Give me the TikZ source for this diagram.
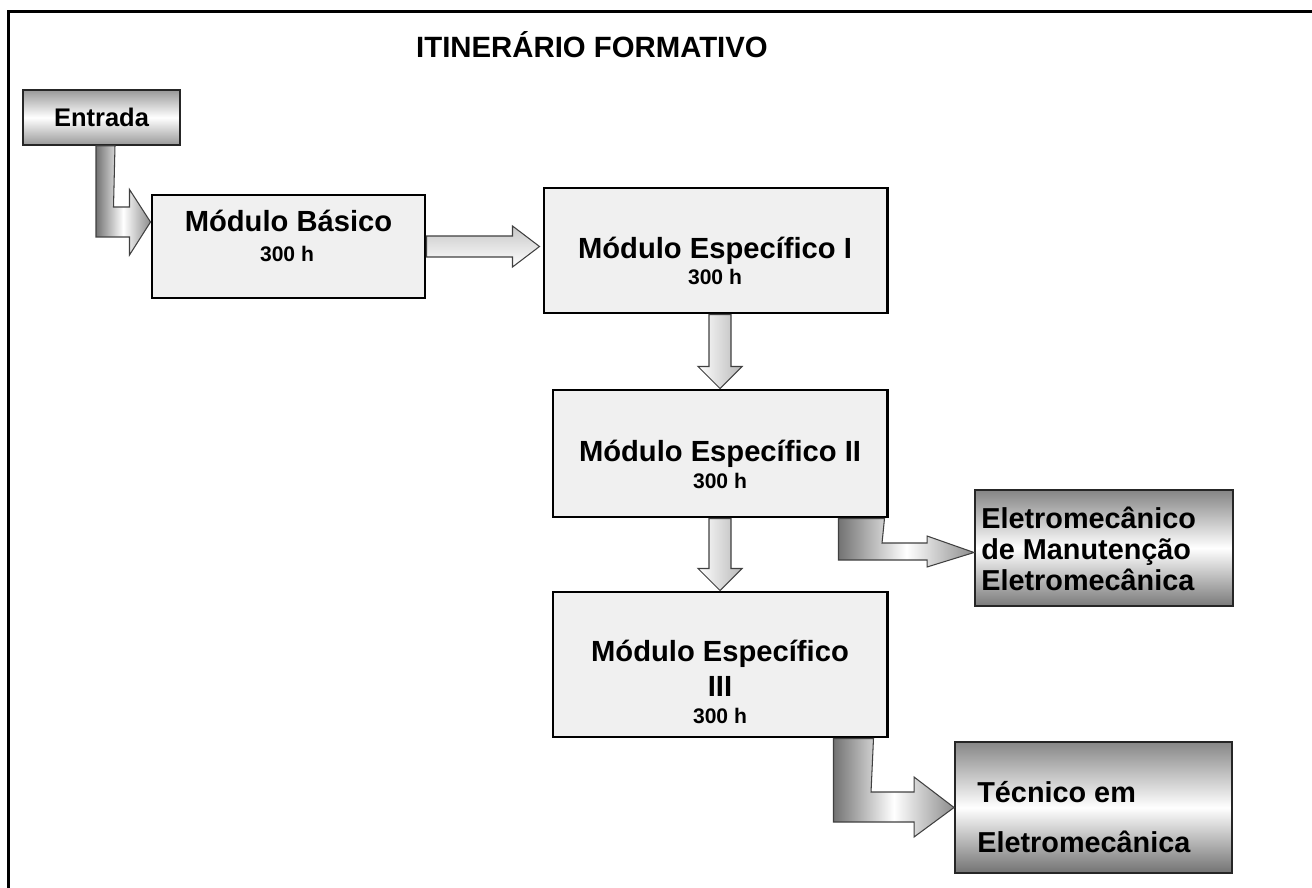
\documentclass[tikz,border=0pt]{standalone}
\usepackage{fontspec}
\setmainfont{Liberation Sans}
\usetikzlibrary{positioning,calc}

\newcommand{\px}{0.02cm}

\tikzset{
  modbox/.style={draw=black, line width=1.7pt, fill=black!6, inner sep=0pt},
  outbox/.style={draw=black!85, line width=1.1pt, top color=black!48, bottom color=black!52, middle color=white, inner sep=0pt},
  titletext/.style={font=\fontsize{16.7}{20}\selectfont\bfseries, anchor=base, inner sep=0pt},
  modtext/.style={font=\fontsize{16.6}{19}\selectfont\bfseries, anchor=base, inner sep=0pt},
  hourtext/.style={font=\fontsize{12}{14}\selectfont\bfseries, anchor=base, inner sep=0pt},
  outtext/.style={font=\fontsize{16.4}{19}\selectfont\bfseries, anchor=base west, inner sep=0pt},
  harrow/.style={draw=black!75, line width=0.6pt, top color=black!22, bottom color=white},
  varrow/.style={draw=black!75, line width=0.6pt, left color=white, right color=black!28},
  bentarrow/.style={draw=black!75, line width=0.6pt, left color=black!55, right color=black!45, middle color=white}
}

\begin{document}
\begin{tikzpicture}[x=\px, y=-\px]
  \useasboundingbox (0,0) rectangle (1312,888);
  % moldura
  \draw[line width=1.5pt] (8.5,888) -- (8.5,11.3) -- (1312,11.3);
  \node[titletext] (titulo) at (592,58) {ITINERÁRIO FORMATIVO};

  % caixas
  \node[outbox, line width=0.9pt, top color=black!40, bottom color=black!40, middle color=white,
        minimum width=157*\px, minimum height=55*\px,
        font=\fontsize{14.5}{17}\selectfont\bfseries] (entrada) at (101.5,117.5) {Entrada};
  \node[modbox, minimum width=273*\px, minimum height=103*\px] (basico) at (288.5,246.5) {};
  \node[modbox, minimum width=343*\px, minimum height=125*\px] (esp1) at (715.5,250.5) {};
  \node[modbox, minimum width=334*\px, minimum height=127*\px] (esp2) at (720,453.5) {};
  \node[modbox, minimum width=334*\px, minimum height=145*\px] (esp3) at (720,664.5) {};
  \node[outbox, minimum width=258*\px, minimum height=116*\px] (eletro) at (1104,548) {};
  \node[outbox, top color=black!47, bottom color=black!55, middle color=white,
        minimum width=277*\px, minimum height=131*\px] (tecnico) at (1093.5,807.5) {};

  % textos
  \node[modtext] (basicoT) at (288.5,232) {Módulo Básico};
  \node[hourtext] (basicoH) at (287,262) {300 h};
  \node[modtext] (esp1T) at (715,258.3) {Módulo Específico I};
  \node[hourtext] (esp1H) at (715,285) {300 h};
  \node[modtext] (esp2T) at (720,461.7) {Módulo Específico II};
  \node[hourtext] (esp2H) at (720,488) {300 h};
  \node[modtext] (esp3T) at (720,661.7) {Módulo Específico};
  \node[modtext] (esp3R) at (720,696.7) {III};
  \node[hourtext] (esp3H) at (720,723) {300 h};
  \node[outtext] (eletroA) at (981,528) {Eletromecânico};
  \node[outtext] (eletroB) at (981,559) {de Manutenção};
  \node[outtext] (eletroC) at (981,590) {Eletromecânica};
  \node[outtext] (tecnicoA) at (977,802) {Técnico em};
  \node[outtext] (tecnicoB) at (977,852) {Eletromecânica};

  % setas
  \draw[bentarrow] ($(entrada.south)+(-5.5,0)$) |- ($(basico.west)+(-21,-9.5)$) -- ++(0,18)
    -- ($(basico.west)+(0,-24.5)$) -- ++(-21,-32.5) -- ++(0,17.5) -- ++(-16,0)
    -- ($(entrada.south)+(13.5,0)$) -- cycle;
  \draw[harrow] ($(basico.east)+(0,-10.5)$) -- ($(esp1.west |- basico.east)+(-30,-10.5)$) -- ++(0,-10)
    -- ($(esp1.west |- basico.east)+(-3,0)$) -- ++(-27,20.5) -- ++(0,-10)
    -- ($(basico.east)+(0,10.5)$) -- cycle;
  \draw[varrow] ($(esp1.south -| esp2.north)+(-11,0)$) -- ($(esp2.north)+(-11,-22)$) -- ++(-11,0)
    -- (esp2.north) -- ++(22,-22) -- ++(-11,0)
    -- ($(esp1.south -| esp2.north)+(11,0)$) -- cycle;
  \draw[varrow] ($(esp2.south -| esp3.north)+(-11,0)$) -- ($(esp3.north)+(-11,-22)$) -- ++(-11,0)
    -- (esp3.north) -- ++(22,-22) -- ++(-11,0)
    -- ($(esp2.south -| esp3.north)+(11,0)$) -- cycle;
  \draw[bentarrow] ($(esp2.south east)+(-50,0)$) |- ($(eletro.west)+(-47,12)$) -- ++(0,7)
    -- ($(eletro.west)+(0,4.5)$) -- ++(-47,-16.5) -- ++(0,7) -- ++(-45,0)
    -- ($(esp2.south east)+(-4,0)$) -- cycle;
  \draw[bentarrow] ($(esp3.south east)+(-55,0)$) |- ($(tecnico.west)+(-40,14.5)$) -- ++(0,15)
    -- (tecnico.west) -- ++(-40,-30.5) -- ++(0,15) -- ++(-43,0)
    -- ($(esp3.south east)+(-15,0)$) -- cycle;
\end{tikzpicture}
\end{document}
